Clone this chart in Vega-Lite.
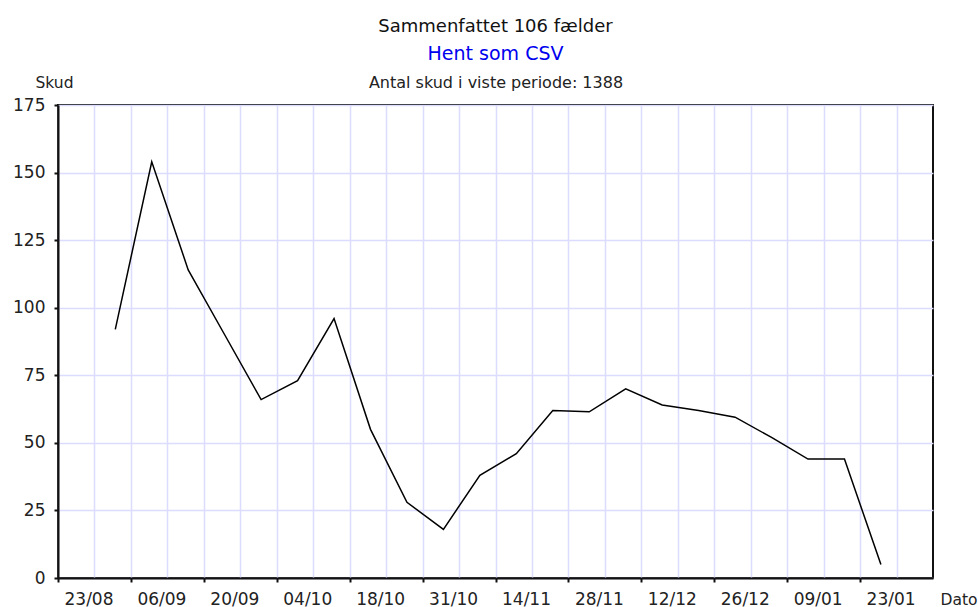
{
  "$schema": "https://vega.github.io/schema/vega-lite/v6.json",
  "autosize": "none",
  "width": 875,
  "height": 473,
  "padding": {"left": 58, "top": 105, "right": 45, "bottom": 29},
  "background": "white",
  "config": {
    "font": "DejaVu Sans",
    "view": {"stroke": "#111", "strokeWidth": 2},
    "axis": {
      "labelFont": "DejaVu Sans",
      "titleFont": "DejaVu Sans",
      "labelColor": "#222",
      "titleColor": "#222",
      "titleFontWeight": "normal",
      "domainColor": "#111",
      "domainWidth": 2,
      "tickColor": "#111",
      "tickWidth": 2,
      "tickSize": 4,
      "gridColor": "#dcdcff",
      "gridWidth": 1.5,
      "gridOpacity": 1
    }
  },
  "title": {
    "text": "Sammenfattet 106 fælder",
    "subtitle": "Hent som CSV",
    "font": "DejaVu Sans",
    "fontSize": 18,
    "fontWeight": "normal",
    "color": "#111",
    "subtitleFont": "DejaVu Sans",
    "subtitleFontSize": 19,
    "subtitleColor": "#0000ee",
    "subtitlePadding": 9,
    "anchor": "middle",
    "offset": 10
  },
  "data": {
    "values": [
      {"dato": "2021-09-03", "skud": 92},
      {"dato": "2021-09-10", "skud": 154},
      {"dato": "2021-09-17", "skud": 114},
      {"dato": "2021-09-24", "skud": 90},
      {"dato": "2021-10-01", "skud": 66},
      {"dato": "2021-10-08", "skud": 73},
      {"dato": "2021-10-15", "skud": 96},
      {"dato": "2021-10-22", "skud": 55},
      {"dato": "2021-10-29", "skud": 28},
      {"dato": "2021-11-05", "skud": 18},
      {"dato": "2021-11-12", "skud": 38},
      {"dato": "2021-11-19", "skud": 46},
      {"dato": "2021-11-26", "skud": 62},
      {"dato": "2021-12-03", "skud": 61.5},
      {"dato": "2021-12-10", "skud": 70},
      {"dato": "2021-12-17", "skud": 64},
      {"dato": "2021-12-24", "skud": 62},
      {"dato": "2021-12-31", "skud": 59.5},
      {"dato": "2022-01-07", "skud": 52},
      {"dato": "2022-01-14", "skud": 44},
      {"dato": "2022-01-21", "skud": 44},
      {"dato": "2022-01-28", "skud": 5}
    ]
  },
  "layer": [
    {
      "mark": {"type": "line", "color": "#000", "strokeWidth": 1.5},
      "encoding": {
        "x": {
          "field": "dato",
          "type": "temporal",
          "scale": {
            "type": "utc",
            "domain": [
              {"year": 2021, "month": 8, "date": 23, "utc": true},
              {"year": 2022, "month": 2, "date": 7, "utc": true}
            ]
          },
          "axis": {
            "orient": "bottom",
            "title": "Dato",
            "titleFontSize": 15.5,
            "titleAlign": "left",
            "titleAnchor": null,
            "titleBaseline": "alphabetic",
            "titleX": 882,
            "titleY": 26,
            "labelFontSize": 17,
            "labelAlign": "left",
            "labelOffset": 6,
            "labelPadding": 9,
            "labelOverlap": false,
            "labelFlush": false,
            "grid": true,
            "tickOpacity": {
              "condition": {"test": "round((datum.value - utc(2021,7,23)) / 86400000) % 14 == 0 && datum.value < utc(2022,1,1)", "value": 1},
              "value": 0
            },
            "labelExpr": "(round((datum.value - utc(2021,7,23)) / 86400000) % 14 != 0 || datum.value > utc(2022,1,1)) ? '' : utcFormat(datum.value < utc(2021,9,31) ? datum.value : datum.value - 86400000, '%d/%m')",
            "values": [
              {"year": 2021, "month": 8, "date": 23, "utc": true},
              {"year": 2021, "month": 8, "date": 30, "utc": true},
              {"year": 2021, "month": 9, "date": 6, "utc": true},
              {"year": 2021, "month": 9, "date": 13, "utc": true},
              {"year": 2021, "month": 9, "date": 20, "utc": true},
              {"year": 2021, "month": 9, "date": 27, "utc": true},
              {"year": 2021, "month": 10, "date": 4, "utc": true},
              {"year": 2021, "month": 10, "date": 11, "utc": true},
              {"year": 2021, "month": 10, "date": 18, "utc": true},
              {"year": 2021, "month": 10, "date": 25, "utc": true},
              {"year": 2021, "month": 11, "date": 1, "utc": true},
              {"year": 2021, "month": 11, "date": 8, "utc": true},
              {"year": 2021, "month": 11, "date": 15, "utc": true},
              {"year": 2021, "month": 11, "date": 22, "utc": true},
              {"year": 2021, "month": 11, "date": 29, "utc": true},
              {"year": 2021, "month": 12, "date": 6, "utc": true},
              {"year": 2021, "month": 12, "date": 13, "utc": true},
              {"year": 2021, "month": 12, "date": 20, "utc": true},
              {"year": 2021, "month": 12, "date": 27, "utc": true},
              {"year": 2022, "month": 1, "date": 3, "utc": true},
              {"year": 2022, "month": 1, "date": 10, "utc": true},
              {"year": 2022, "month": 1, "date": 17, "utc": true},
              {"year": 2022, "month": 1, "date": 24, "utc": true},
              {"year": 2022, "month": 1, "date": 31, "utc": true}
            ]
          }
        },
        "y": {
          "field": "skud",
          "type": "quantitative",
          "scale": {"domain": [0, 175], "nice": false},
          "axis": {
            "values": [0, 25, 50, 75, 100, 125, 150, 175],
            "title": "Skud",
            "titleAngle": 0,
            "titleFontSize": 15.5,
            "titleAlign": "center",
            "titleAnchor": null,
            "titleBaseline": "alphabetic",
            "titleX": -4,
            "titleY": -18,
            "labelFontSize": 17,
            "labelPadding": 9,
            "labelBaseline": "middle",
            "labelFlush": false,
            "grid": true
          }
        }
      }
    },
    {
      "mark": {"type": "line", "opacity": 0},
      "encoding": {
        "x": {
          "field": "dato",
          "type": "temporal",
          "axis": {
            "orient": "top",
            "title": "Antal skud i viste periode: 1388",
            "titleFontSize": 16,
            "titleBaseline": "alphabetic",
            "titleY": -18,
            "labels": false,
            "ticks": false,
            "domain": false,
            "grid": false
          }
        }
      }
    }
  ],
  "resolve": {"axis": {"x": "independent"}}
}
